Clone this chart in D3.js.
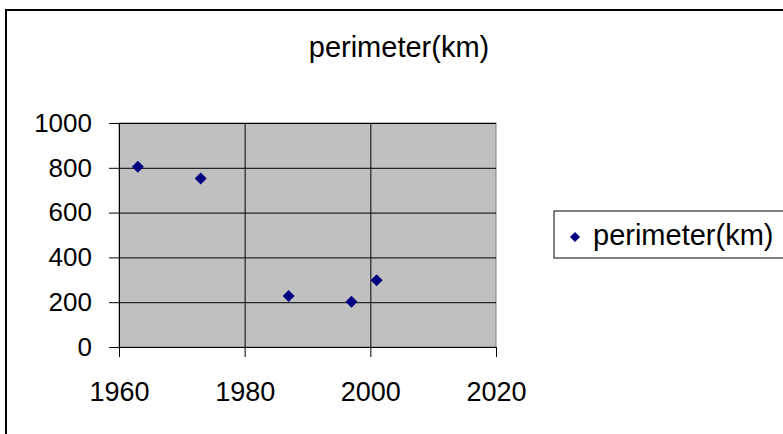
<!DOCTYPE html>
<html>
<head>
<meta charset="utf-8">
<script src="https://cdn.jsdelivr.net/npm/d3@7"></script>
<style>
  body { margin: 0; background: #fff; }
  svg text { font-family: "Liberation Sans", Arial, sans-serif; fill: #000; }
</style>
</head>
<body>
<div id="chart"></div>
<script>
// data
const seriesName = 'perimeter(km)';
const years = [1963, 1973, 1987, 1997, 2001];
const perimeters = [805, 752, 228, 202, 298];
const xTicks = [1960, 1980, 2000, 2020];
const yTicks = [0, 200, 400, 600, 800, 1000];

const W = 783, H = 434;
let margin = { top: 123, left: 119, right: 287, bottom: 87 },
    width = W - margin.left - margin.right,
    height = H - margin.top - margin.bottom;

const svg = d3.select('#chart').append('svg')
    .attr('width', W)
    .attr('height', H);

// outer chart frame (runs off the right and bottom edge)
svg.append('rect')
    .attr('x', 6).attr('y', 10)
    .attr('width', 900).attr('height', 600)
    .attr('fill', 'none')
    .attr('stroke', '#000')
    .attr('stroke-width', 2);

svg.append('text')
    .attr('x', 399)
    .attr('y', 57)
    .attr('text-anchor', 'middle')
    .style('font-size', '29px')
    .text(seriesName);

const g = svg.append('g')
    .attr('transform', 'translate(' + margin.left + ',' + margin.top + ')');

const xScale = d3.scaleLinear().domain([1960, 2020]).range([0, width]);
const yScale = d3.scaleLinear().domain([0, 1000]).range([height, 0]);

// plot area
g.append('rect')
    .attr('width', width)
    .attr('height', height)
    .attr('fill', '#c0c0c0')
    .attr('stroke', '#808080')
    .attr('stroke-width', 1);

// gridlines
g.append('g')
    .attr('class', 'grid')
    .call(d3.axisLeft(yScale).tickValues(yTicks).tickSize(-width).tickFormat(''))
    .call(s => s.select('.domain').remove())
    .call(s => s.selectAll('line').attr('stroke', '#000'));

g.append('g')
    .attr('class', 'grid')
    .attr('transform', 'translate(0,' + height + ')')
    .call(d3.axisBottom(xScale).tickValues(xTicks.slice(1, -1)).tickSize(-height).tickFormat(''))
    .call(s => s.select('.domain').remove())
    .call(s => s.selectAll('line').attr('stroke', '#000'));

// axes
const yAxis = g.append('g')
    .call(d3.axisLeft(yScale).tickValues(yTicks).tickSize(10).tickSizeOuter(0).tickPadding(17).tickFormat(d3.format('d')));
yAxis.select('.domain').attr('stroke', '#000');
yAxis.selectAll('line').attr('stroke', '#000');
yAxis.selectAll('text').style('font-size', '26px').attr('font-family', null);

const xAxis = g.append('g')
    .attr('transform', 'translate(0,' + height + ')')
    .call(d3.axisBottom(xScale).tickValues(xTicks).tickSize(10).tickSizeOuter(0).tickPadding(25).tickFormat(d3.format('d')));
xAxis.select('.domain').attr('stroke', '#000');
xAxis.selectAll('line').attr('stroke', '#000');
xAxis.selectAll('text').style('font-size', '27px').attr('font-family', null);

// points
const diamond = d3.symbol().type(d3.symbolSquare).size(72);
g.append('g')
    .selectAll('.point')
    .data(years.map((y, i) => ({ year: y, value: perimeters[i] })))
    .enter().append('path')
    .attr('class', 'point')
    .attr('d', diamond)
    .attr('transform', d => 'translate(' + xScale(d.year) + ',' + yScale(d.value) + ') rotate(45)')
    .attr('fill', '#000080');

// legend (box runs off the right edge)
const legend = svg.append('g').attr('transform', 'translate(554,211)');
legend.append('rect')
    .attr('width', 300).attr('height', 47)
    .attr('fill', '#fff')
    .attr('stroke', '#000')
    .attr('stroke-width', 1);
legend.append('path')
    .attr('d', d3.symbol().type(d3.symbolSquare).size(50))
    .attr('transform', 'translate(21,26) rotate(45)')
    .attr('fill', '#000080');
legend.append('text')
    .attr('x', 39)
    .attr('y', 34)
    .style('font-size', '29px')
    .text(seriesName);
</script>
</body>
</html>
